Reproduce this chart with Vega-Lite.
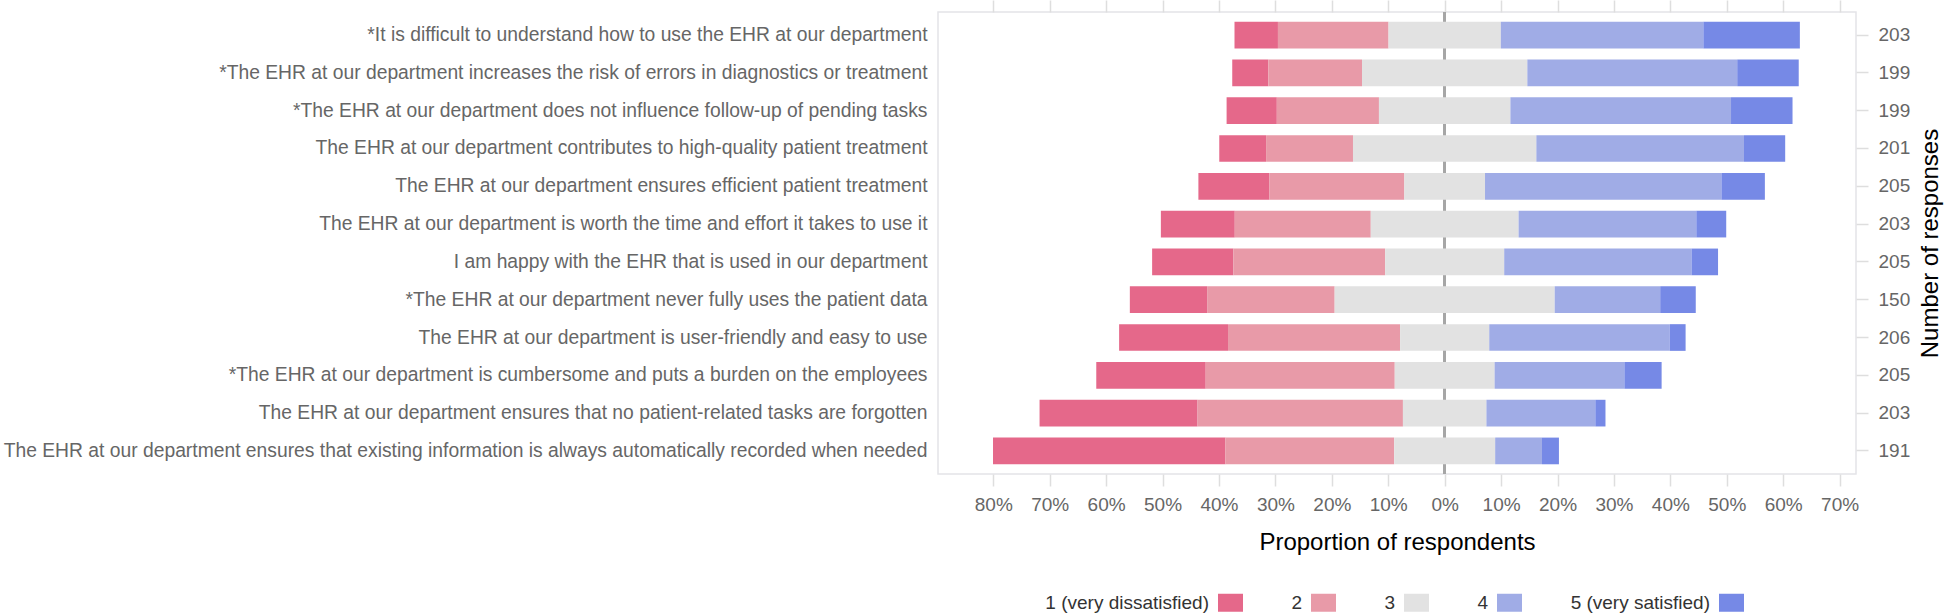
{
  "$schema": "https://vega.github.io/schema/vega-lite/v6.json",
  "autosize": "none",
  "padding": {"left": 938, "top": 12, "right": 90, "bottom": 140},
  "width": 918,
  "height": 462,
  "background": "white",
  "config": {
    "view": {"stroke": "#e4e4e8", "strokeWidth": 1.5},
    "font": "Liberation Sans",
    "axis": {
      "labelFont": "Liberation Sans",
      "labelFontSize": 19,
      "labelColor": "#666666",
      "titleFont": "Liberation Sans",
      "titleFontSize": 24,
      "titleColor": "#000000",
      "titleFontWeight": "normal",
      "grid": false,
      "domain": false,
      "tickColor": "#dedede",
      "tickWidth": 1.5
    },
    "legend": {
      "labelFont": "Liberation Sans",
      "labelFontSize": 19,
      "labelColor": "#333333"
    }
  },
  "data": {
    "values": [
      {"qid": 1, "q": "*It is difficult to understand how to use the EHR at our department", "n": 203, "cat": 1, "label": "1 (very dissatisfied)", "pct": 7.7},
      {"qid": 1, "q": "*It is difficult to understand how to use the EHR at our department", "n": 203, "cat": 2, "label": "2", "pct": 19.6},
      {"qid": 1, "q": "*It is difficult to understand how to use the EHR at our department", "n": 203, "cat": 3, "label": "3", "pct": 19.9},
      {"qid": 1, "q": "*It is difficult to understand how to use the EHR at our department", "n": 203, "cat": 4, "label": "4", "pct": 35.9},
      {"qid": 1, "q": "*It is difficult to understand how to use the EHR at our department", "n": 203, "cat": 5, "label": "5 (very satisfied)", "pct": 17.1},
      {"qid": 2, "q": "*The EHR at our department increases the risk of errors in diagnostics or treatment", "n": 199, "cat": 1, "label": "1 (very dissatisfied)", "pct": 6.4},
      {"qid": 2, "q": "*The EHR at our department increases the risk of errors in diagnostics or treatment", "n": 199, "cat": 2, "label": "2", "pct": 16.6},
      {"qid": 2, "q": "*The EHR at our department increases the risk of errors in diagnostics or treatment", "n": 199, "cat": 3, "label": "3", "pct": 29.3},
      {"qid": 2, "q": "*The EHR at our department increases the risk of errors in diagnostics or treatment", "n": 199, "cat": 4, "label": "4", "pct": 37.2},
      {"qid": 2, "q": "*The EHR at our department increases the risk of errors in diagnostics or treatment", "n": 199, "cat": 5, "label": "5 (very satisfied)", "pct": 10.9},
      {"qid": 3, "q": "*The EHR at our department does not influence follow-up of pending tasks", "n": 199, "cat": 1, "label": "1 (very dissatisfied)", "pct": 8.9},
      {"qid": 3, "q": "*The EHR at our department does not influence follow-up of pending tasks", "n": 199, "cat": 2, "label": "2", "pct": 18.1},
      {"qid": 3, "q": "*The EHR at our department does not influence follow-up of pending tasks", "n": 199, "cat": 3, "label": "3", "pct": 23.3},
      {"qid": 3, "q": "*The EHR at our department does not influence follow-up of pending tasks", "n": 199, "cat": 4, "label": "4", "pct": 39.1},
      {"qid": 3, "q": "*The EHR at our department does not influence follow-up of pending tasks", "n": 199, "cat": 5, "label": "5 (very satisfied)", "pct": 10.9},
      {"qid": 4, "q": "The EHR at our department contributes to high-quality patient treatment", "n": 201, "cat": 1, "label": "1 (very dissatisfied)", "pct": 8.3},
      {"qid": 4, "q": "The EHR at our department contributes to high-quality patient treatment", "n": 201, "cat": 2, "label": "2", "pct": 15.4},
      {"qid": 4, "q": "The EHR at our department contributes to high-quality patient treatment", "n": 201, "cat": 3, "label": "3", "pct": 32.5},
      {"qid": 4, "q": "The EHR at our department contributes to high-quality patient treatment", "n": 201, "cat": 4, "label": "4", "pct": 36.8},
      {"qid": 4, "q": "The EHR at our department contributes to high-quality patient treatment", "n": 201, "cat": 5, "label": "5 (very satisfied)", "pct": 7.3},
      {"qid": 5, "q": "The EHR at our department ensures efficient patient treatment", "n": 205, "cat": 1, "label": "1 (very dissatisfied)", "pct": 12.6},
      {"qid": 5, "q": "The EHR at our department ensures efficient patient treatment", "n": 205, "cat": 2, "label": "2", "pct": 23.9},
      {"qid": 5, "q": "The EHR at our department ensures efficient patient treatment", "n": 205, "cat": 3, "label": "3", "pct": 14.3},
      {"qid": 5, "q": "The EHR at our department ensures efficient patient treatment", "n": 205, "cat": 4, "label": "4", "pct": 41.9},
      {"qid": 5, "q": "The EHR at our department ensures efficient patient treatment", "n": 205, "cat": 5, "label": "5 (very satisfied)", "pct": 7.7},
      {"qid": 6, "q": "The EHR at our department is worth the time and effort it takes to use it", "n": 203, "cat": 1, "label": "1 (very dissatisfied)", "pct": 13.1},
      {"qid": 6, "q": "The EHR at our department is worth the time and effort it takes to use it", "n": 203, "cat": 2, "label": "2", "pct": 24.1},
      {"qid": 6, "q": "The EHR at our department is worth the time and effort it takes to use it", "n": 203, "cat": 3, "label": "3", "pct": 26.2},
      {"qid": 6, "q": "The EHR at our department is worth the time and effort it takes to use it", "n": 203, "cat": 4, "label": "4", "pct": 31.5},
      {"qid": 6, "q": "The EHR at our department is worth the time and effort it takes to use it", "n": 203, "cat": 5, "label": "5 (very satisfied)", "pct": 5.3},
      {"qid": 7, "q": "I am happy with the EHR that is used in our department", "n": 205, "cat": 1, "label": "1 (very dissatisfied)", "pct": 14.4},
      {"qid": 7, "q": "I am happy with the EHR that is used in our department", "n": 205, "cat": 2, "label": "2", "pct": 26.9},
      {"qid": 7, "q": "I am happy with the EHR that is used in our department", "n": 205, "cat": 3, "label": "3", "pct": 21.1},
      {"qid": 7, "q": "I am happy with the EHR that is used in our department", "n": 205, "cat": 4, "label": "4", "pct": 33.2},
      {"qid": 7, "q": "I am happy with the EHR that is used in our department", "n": 205, "cat": 5, "label": "5 (very satisfied)", "pct": 4.7},
      {"qid": 8, "q": "*The EHR at our department never fully uses the patient data", "n": 150, "cat": 1, "label": "1 (very dissatisfied)", "pct": 13.7},
      {"qid": 8, "q": "*The EHR at our department never fully uses the patient data", "n": 150, "cat": 2, "label": "2", "pct": 22.6},
      {"qid": 8, "q": "*The EHR at our department never fully uses the patient data", "n": 150, "cat": 3, "label": "3", "pct": 39.0},
      {"qid": 8, "q": "*The EHR at our department never fully uses the patient data", "n": 150, "cat": 4, "label": "4", "pct": 18.7},
      {"qid": 8, "q": "*The EHR at our department never fully uses the patient data", "n": 150, "cat": 5, "label": "5 (very satisfied)", "pct": 6.3},
      {"qid": 9, "q": "The EHR at our department is user-friendly and easy to use", "n": 206, "cat": 1, "label": "1 (very dissatisfied)", "pct": 19.3},
      {"qid": 9, "q": "The EHR at our department is user-friendly and easy to use", "n": 206, "cat": 2, "label": "2", "pct": 30.5},
      {"qid": 9, "q": "The EHR at our department is user-friendly and easy to use", "n": 206, "cat": 3, "label": "3", "pct": 15.8},
      {"qid": 9, "q": "The EHR at our department is user-friendly and easy to use", "n": 206, "cat": 4, "label": "4", "pct": 32.0},
      {"qid": 9, "q": "The EHR at our department is user-friendly and easy to use", "n": 206, "cat": 5, "label": "5 (very satisfied)", "pct": 2.8},
      {"qid": 10, "q": "*The EHR at our department is cumbersome and puts a burden on the employees", "n": 205, "cat": 1, "label": "1 (very dissatisfied)", "pct": 19.4},
      {"qid": 10, "q": "*The EHR at our department is cumbersome and puts a burden on the employees", "n": 205, "cat": 2, "label": "2", "pct": 33.5},
      {"qid": 10, "q": "*The EHR at our department is cumbersome and puts a burden on the employees", "n": 205, "cat": 3, "label": "3", "pct": 17.7},
      {"qid": 10, "q": "*The EHR at our department is cumbersome and puts a burden on the employees", "n": 205, "cat": 4, "label": "4", "pct": 23.0},
      {"qid": 10, "q": "*The EHR at our department is cumbersome and puts a burden on the employees", "n": 205, "cat": 5, "label": "5 (very satisfied)", "pct": 6.6},
      {"qid": 11, "q": "The EHR at our department ensures that no patient-related tasks are forgotten", "n": 203, "cat": 1, "label": "1 (very dissatisfied)", "pct": 28.0},
      {"qid": 11, "q": "The EHR at our department ensures that no patient-related tasks are forgotten", "n": 203, "cat": 2, "label": "2", "pct": 36.4},
      {"qid": 11, "q": "The EHR at our department ensures that no patient-related tasks are forgotten", "n": 203, "cat": 3, "label": "3", "pct": 14.8},
      {"qid": 11, "q": "The EHR at our department ensures that no patient-related tasks are forgotten", "n": 203, "cat": 4, "label": "4", "pct": 19.3},
      {"qid": 11, "q": "The EHR at our department ensures that no patient-related tasks are forgotten", "n": 203, "cat": 5, "label": "5 (very satisfied)", "pct": 1.8},
      {"qid": 12, "q": "The EHR at our department ensures that existing information is always automatically recorded when needed", "n": 191, "cat": 1, "label": "1 (very dissatisfied)", "pct": 41.2},
      {"qid": 12, "q": "The EHR at our department ensures that existing information is always automatically recorded when needed", "n": 191, "cat": 2, "label": "2", "pct": 29.9},
      {"qid": 12, "q": "The EHR at our department ensures that existing information is always automatically recorded when needed", "n": 191, "cat": 3, "label": "3", "pct": 17.9},
      {"qid": 12, "q": "The EHR at our department ensures that existing information is always automatically recorded when needed", "n": 191, "cat": 4, "label": "4", "pct": 8.3},
      {"qid": 12, "q": "The EHR at our department ensures that existing information is always automatically recorded when needed", "n": 191, "cat": 5, "label": "5 (very satisfied)", "pct": 3.0}
    ]
  },
  "transform": [
    {"calculate": "datum.cat < 3 ? datum.pct : (datum.cat == 3 ? datum.pct / 2 : 0)", "as": "neg"},
    {"joinaggregate": [{"op": "sum", "field": "neg", "as": "off"}], "groupby": ["q"]},
    {"window": [{"op": "sum", "field": "pct", "as": "cum"}], "sort": [{"field": "cat", "order": "ascending"}], "groupby": ["q"], "frame": [null, 0]},
    {"calculate": "datum.cum - datum.pct - datum.off", "as": "xstart"},
    {"calculate": "datum.cum - datum.off", "as": "xend"},
    {"calculate": "datum.q + '|' + datum.n", "as": "qn"}
  ],
  "layer": [
    {
      "mark": {"type": "rule", "color": "#a6a6a6", "strokeWidth": 2},
      "encoding": {
        "x": {"datum": 0, "type": "quantitative", "axis": null}
      }
    },
    {
      "mark": {"type": "bar", "opacity": 0},
      "encoding": {
        "x": {
          "field": "xstart", "type": "quantitative",
          "axis": {"orient": "top", "labels": false, "ticks": true, "tickSize": 12, "title": null, "values": [-80, -70, -60, -50, -40, -30, -20, -10, 0, 10, 20, 30, 40, 50, 60, 70]}
        },
        "x2": {"field": "xend"},
        "y": {
          "field": "qn", "type": "nominal", "sort": {"field": "qid", "op": "min"},
          "axis": {"orient": "right", "labelExpr": "split(datum.value, '|')[1]", "tickSize": 12, "labelPadding": 10, "title": "Number of responses", "titleAngle": 270, "titlePadding": 33}
        }
      }
    },
    {
      "mark": {"type": "bar"},
      "encoding": {
        "x": {
          "field": "xstart", "type": "quantitative",
          "scale": {"domain": [-89.8, 72.9], "nice": false, "zero": false},
          "axis": {"orient": "bottom", "values": [-80, -70, -60, -50, -40, -30, -20, -10, 0, 10, 20, 30, 40, 50, 60, 70], "labelExpr": "abs(datum.value) + '%'", "tickSize": 12, "labelPadding": 9, "title": "Proportion of respondents", "titlePadding": 16}
        },
        "x2": {"field": "xend"},
        "y": {
          "field": "qn", "type": "nominal", "sort": {"field": "qid", "op": "min"},
          "scale": {"paddingInner": 0.294, "paddingOuter": 0.257},
          "axis": {"orient": "left", "labelExpr": "split(datum.value, '|')[0]", "ticks": false, "labelPadding": 11, "labelLimit": 1200, "labelFontSize": 19.3, "title": null}
        },
        "color": {
          "field": "label", "type": "nominal",
          "scale": {
            "domain": ["1 (very dissatisfied)", "2", "3", "4", "5 (very satisfied)"],
            "range": ["#e5688a", "#e89aa8", "#e2e2e2", "#a0ace6", "#7689e6"]
          },
          "legend": {
            "orient": "none", "legendX": 280, "legendY": 578,
            "direction": "horizontal", "title": null,
            "symbolType": "M-1,-0.72H1V0.72H-1Z", "symbolSize": 625, "symbolStrokeWidth": 0, "symbolOpacity": 1,
            "labelAlign": "right", "labelOffset": -34, "columnPadding": 48, "labelLimit": 400
          }
        }
      }
    }
  ],
  "resolve": {"axis": {"x": "independent", "y": "independent"}}
}
